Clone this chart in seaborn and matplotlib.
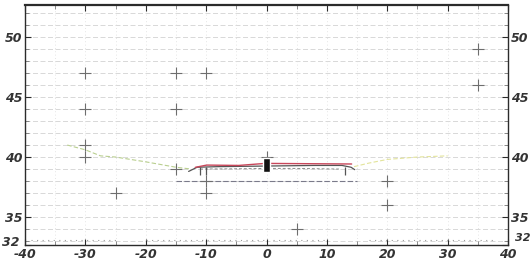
import numpy as np
import matplotlib
matplotlib.use("Agg")
import matplotlib.pyplot as plt
import matplotlib.transforms as mtrans
import seaborn as sns

# ==========================================
# DATA
# ==========================================
cross_x = [-30, -15, -10, -30, -15, -30, -30, -25, -15, -10, -10, 0, 20, 20, 5, 35, 35]
cross_y = [47, 47, 47, 44, 44, 41, 40, 37, 39, 37, 38, 40, 38, 36, 34, 49, 46]

red_x = [-11.8, -9.9, -4.6, -0.2, 14.1]
red_y = [39.14, 39.33, 39.30, 39.47, 39.42]

track_x = [-12.9, -11.5, -8, 0, 8, 12.5, 14.0, 14.6]
track_y = [38.80, 39.15, 39.20, 39.25, 39.30, 39.30, 39.15, 38.95]

mid_x = [-11, -5, 0, 5, 12]
mid_y = [39.00, 39.02, 39.05, 39.05, 39.00]

lower_x = [-15, -10, 0, 10, 15]
lower_y = [38.0, 38.0, 38.0, 38.0, 38.0]

drop_x = [-11, -10, 13]

left_arc_x = [-33, -30, -27.5, -25, -20, -15, -12.5]
left_arc_y = [41.0, 40.6, 40.1, 40.0, 39.6, 39.15, 39.0]

right_arc_x = [14.5, 17, 20, 25, 30]
right_arc_y = [39.2, 39.5, 39.8, 40.0, 40.1]

box_x = [-0.05]
box_bottom = [38.75]
box_height = [1.15]

dots_x = [-39, -25, np.nan, -20, 0, np.nan, 1, 10, np.nan, 17, 38]
dots_y = [33.1, 33.1, np.nan, 33.1, 33.1, np.nan, 33.1, 33.1, np.nan, 33.1, 33.1]

x_ticks = [-40, -30, -20, -10, 0, 10, 20, 30, 40]
y_ticks = [32.67, 35, 40, 45, 50]
y_tick_labels = ["32", "35", "40", "45", "50"]

INK = "#2b2b2b"
GRID = "#d2d2d2"

sns.set_style("white")
plt.rcParams["font.family"] = ["DejaVu Sans"]

fig = plt.figure(figsize=(5.31, 2.60), dpi=100)
ax = fig.add_axes([25 / 531, 15 / 260, 483 / 531, 240 / 260])

# background grid
for yy in range(33, 53):
    ax.axhline(yy, color=GRID, lw=0.6, ls=(0, (6, 3)), zorder=0)
for xx in range(-35, 40, 5):
    ax.axvline(xx, color="#dcdcdc", lw=0.6, ls=(0, (1, 3)), zorder=0)

ax.plot(dots_x, dots_y, color="#9a9a9a", lw=0.8, ls=(0, (1, 4)), zorder=1)

# faint green / yellow arcs
sns.lineplot(x=left_arc_x, y=left_arc_y, sort=False, estimator=None, ax=ax,
             color="#b9cf8f", lw=0.8, ls=(0, (4, 2)), zorder=1)
sns.lineplot(x=right_arc_x, y=right_arc_y, sort=False, estimator=None, ax=ax,
             color="#e3e49b", lw=0.8, ls=(0, (4, 2)), zorder=1)

sns.lineplot(x=lower_x, y=lower_y, sort=False, estimator=None, ax=ax,
             color="#7a7a8a", lw=0.8, ls=(0, (5, 2)), zorder=2)

# track outline, centre line and red line
sns.lineplot(x=track_x, y=track_y, sort=False, estimator=None, ax=ax,
             color="#555555", lw=0.9, zorder=3)
sns.lineplot(x=mid_x, y=mid_y, sort=False, estimator=None, ax=ax,
             color="#8a8a8a", lw=0.7, ls=(0, (3, 2)), zorder=3)
sns.lineplot(x=red_x, y=red_y, sort=False, estimator=None, ax=ax,
             color="#c8465a", lw=1.0, zorder=4)
ax.vlines(drop_x, 38.5, 39.2, color="#555555", lw=0.9, zorder=3)

# crosses
sns.scatterplot(x=cross_x, y=cross_y, marker="+", s=70, color="#6e6e6e",
                linewidth=0.8, ax=ax, zorder=5)

# black block at origin
ax.bar(box_x, box_height, bottom=box_bottom, width=1.2, color="#111111", zorder=6)

ax.set_xlim(-40, 40)
ax.set_ylim(32.67, 52.67)
ax.set_xticks(x_ticks)
ax.set_xticklabels([str(v) for v in x_ticks])
ax.set_yticks(y_ticks)
ax.set_yticklabels(y_tick_labels)
ax.set_yticks(np.arange(33, 53), minor=True)
ax.set_xticks(np.arange(-35, 40, 5), minor=True)

ax.tick_params(axis="both", which="major", direction="in", length=4, width=0.8,
               colors=INK, labelsize=9, pad=2)
ax.tick_params(axis="y", which="both", left=True, right=True, labelright=True)
ax.tick_params(axis="x", which="both", top=True, bottom=True)
ax.tick_params(axis="both", which="minor", direction="in", length=3, width=0.6, color="#777777")

for t in ax.xaxis.get_major_ticks() + ax.yaxis.get_major_ticks():
    for lab in (t.label1, t.label2):
        lab.set_fontstyle("italic")
        lab.set_fontweight("bold")
        lab.set_color("#333333")

# corner "32" labels: nudge so they sit beside the -40 / 40 labels
corner = ax.yaxis.get_major_ticks()[0]
corner.label1.set_transform(corner.label1.get_transform()
                            + mtrans.ScaledTranslation(-2 / 72, 3 / 72, fig.dpi_scale_trans))
corner.label2.set_transform(corner.label2.get_transform()
                            + mtrans.ScaledTranslation(3 / 72, 6 / 72, fig.dpi_scale_trans))
corner.label2.set_fontsize(8)

for side, sp in ax.spines.items():
    sp.set_color(INK)
    sp.set_linewidth(1.0)
ax.spines["top"].set_linewidth(1.6)

plt.savefig("out.png", dpi=100)
plt.close()
